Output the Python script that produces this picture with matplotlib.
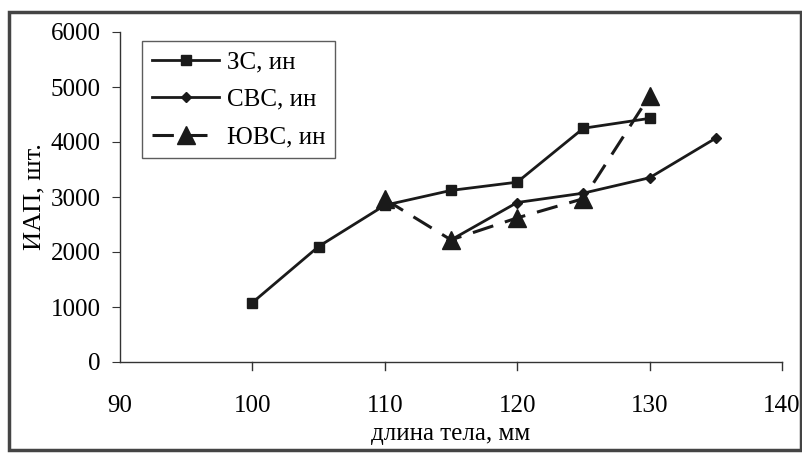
import matplotlib
matplotlib.use('Agg')
import matplotlib.pyplot as plt
from matplotlib.patches import Rectangle

# body length, mm / count per group
zs_len = [100, 105, 110, 115, 120, 125, 130]
zs_iap = [1080, 2100, 2850, 3120, 3270, 4250, 4430]

svs_len = [115, 120, 125, 130, 135]
svs_iap = [2220, 2900, 3070, 3350, 4070]

yuvs_len = [110, 115, 120, 125, 130]
yuvs_iap = [2960, 2220, 2620, 2970, 4840]

labels = ['ЗС, ин', 'СВС, ин', 'ЮВС, ин']
x_ticks = [90, 100, 110, 120, 130, 140]
y_ticks = [0, 1000, 2000, 3000, 4000, 5000, 6000]

plt.rcParams['font.family'] = ['Liberation Serif', 'DejaVu Serif']

fig = plt.figure(figsize=(8.03, 4.54), dpi=100)
ax = fig.add_axes([120 / 803, 1 - 362 / 454, 662 / 803, 330 / 454])

ax.plot(zs_len, zs_iap, color='#1a1a1a', lw=2.0, marker='s', ms=6.5,
        label=labels[0])
ax.plot(svs_len, svs_iap, color='#1a1a1a', lw=2.0, marker='D', ms=5.5,
        label=labels[1])
line, = ax.plot(yuvs_len, yuvs_iap, color='#1a1a1a', lw=2.2, marker='^',
                ms=13, label=labels[2])
line.set_dashes((7, 4))

ax.set_xlim(90, 140)
ax.set_ylim(0, 6000)
ax.set_xticks(x_ticks)
ax.set_yticks(y_ticks)

for side in ['top', 'right']:
    ax.spines[side].set_visible(False)
for side in ['left', 'bottom']:
    ax.spines[side].set_linewidth(1.0)
    ax.spines[side].set_color('#333333')

ax.tick_params(axis='x', direction='in', length=0, labelsize=18, pad=24)
ax.tick_params(axis='y', direction='out', length=6, labelsize=18, pad=8,
               color='#333333')
# x ticks hang below the axis line
for t in x_ticks[1:]:
    ax.plot([t, t], [0, -140], color='#333333', lw=1.0, clip_on=False)

ax.set_xlabel('длина тела, мм', fontsize=18, labelpad=4)
ax.set_ylabel('ИАП, шт.', fontsize=19, labelpad=4)

leg = ax.legend(loc='upper left', bbox_to_anchor=(0.033, 0.973), fontsize=18,
                handlelength=2.7, frameon=True, fancybox=False,
                borderaxespad=0, borderpad=0.4, labelspacing=0.6,
                handletextpad=0.3)
leg.get_frame().set_edgecolor('#333333')
leg.get_frame().set_linewidth(1.0)

# outer frame around the whole figure
fig.patches.append(Rectangle((9 / 803, 4 / 454), 792 / 803, 438 / 454,
                             transform=fig.transFigure, fill=False,
                             edgecolor='#444444', lw=2.5))

fig.savefig('out.png', dpi=100)
